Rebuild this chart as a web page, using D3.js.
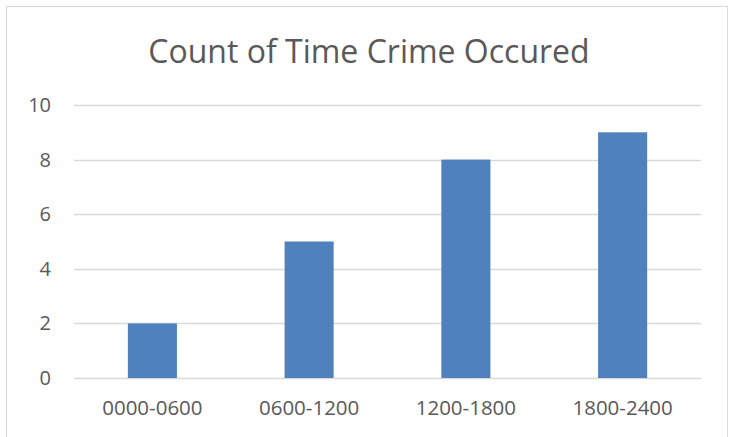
<!DOCTYPE html>
<html>
<head>
<meta charset="utf-8">
<script src="https://cdn.jsdelivr.net/npm/d3@7"></script>
<style>
  html, body { margin: 0; padding: 0; background: #fff; }
  svg { display: block; }
</style>
</head>
<body>
<svg id="chart" width="730" height="437"></svg>
<script>
// Crime counts grouped by time-of-day window
const categories = ["0000-0600", "0600-1200", "1200-1800", "1800-2400"];
const counts = [2, 5, 8, 9];
const yTicks = [0, 2, 4, 6, 8, 10];
const title = "Count of Time Crime Occured";

const W = 730, H = 437;
const margin = { left: 74, right: 29, top: 105, bottom: 59 };
const font = "'Open Sans', 'Liberation Sans', sans-serif";
const textColor = "#595959";

const svg = d3.select("#chart");

// Chart frame
svg.append("rect")
  .attr("x", 6.5).attr("y", 6.5)
  .attr("width", 721).attr("height", 440)
  .attr("fill", "#fff")
  .attr("stroke", "#d9d9d9")
  .attr("stroke-width", 1);

const x = d3.scaleBand()
  .domain(categories)
  .range([margin.left, W - margin.right])
  .paddingInner(0.687)
  .paddingOuter(0.3435);

const y = d3.scaleLinear()
  .domain([0, 10])
  .range([H - margin.bottom, margin.top]);

// Horizontal gridlines
svg.append("g")
  .selectAll("line")
  .data(yTicks)
  .join("line")
  .attr("x1", margin.left)
  .attr("x2", W - margin.right)
  .attr("y1", d => Math.round(y(d)) + 0.5)
  .attr("y2", d => Math.round(y(d)) + 0.5)
  .attr("stroke", "#d9d9d9")
  .attr("stroke-width", 1.5);

// Y axis labels
const yAxis = d3.axisLeft(y).tickValues(yTicks).tickSize(0).tickPadding(0);
svg.append("g")
  .attr("transform", `translate(${margin.left - 23},0)`)
  .call(yAxis)
  .call(g => g.select(".domain").remove())
  .call(g => g.selectAll("text")
    .attr("font-family", font)
    .attr("font-size", 20)
    .attr("fill", textColor));

// Bars
svg.append("g")
  .selectAll("rect")
  .data(counts)
  .join("rect")
  .attr("x", (d, i) => x(categories[i]))
  .attr("width", x.bandwidth())
  .attr("y", d => y(d))
  .attr("height", d => y(0) - y(d))
  .attr("fill", "#4f81bd");

// X axis labels
const xAxis = d3.axisBottom(x).tickSize(0).tickPadding(0);
svg.append("g")
  .attr("transform", `translate(0,${H - margin.bottom + 22})`)
  .call(xAxis)
  .call(g => g.select(".domain").remove())
  .call(g => g.selectAll("text")
    .attr("font-family", font)
    .attr("font-size", 20.5)
    .attr("fill", textColor));

// Title
svg.append("text")
  .attr("x", 369)
  .attr("y", 63)
  .attr("text-anchor", "middle")
  .attr("font-family", font)
  .attr("font-size", 32)
  .attr("fill", textColor)
  .text(title);
</script>
</body>
</html>
